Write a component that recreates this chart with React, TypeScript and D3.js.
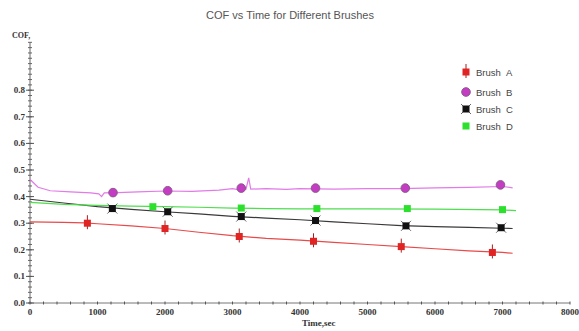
import React from "react";
import * as d3 from "d3";

const W = 579;
const H = 331;

const title = "COF vs Time for Different Brushes";
const xTicks = [0, 1000, 2000, 3000, 4000, 5000, 6000, 7000, 8000];
const yTicks = [0.0, 0.1, 0.2, 0.3, 0.4, 0.5, 0.6, 0.7, 0.8];

// Continuous curves [time, COF]
const lineA: [number, number][] = [[0, 0.305], [500, 0.303], [800, 0.301], [1000, 0.298], [1500, 0.29], [2000, 0.28], [2500, 0.266], [3000, 0.253], [3500, 0.243], [4000, 0.236], [4500, 0.228], [5000, 0.22], [5500, 0.212], [6000, 0.204], [6500, 0.196], [7000, 0.19], [7150, 0.187]];
const lineB: [number, number][] = [[0, 0.465], [40, 0.455], [120, 0.435], [300, 0.422], [600, 0.418], [900, 0.414], [1020, 0.41], [1060, 0.4], [1100, 0.414], [1300, 0.415], [1600, 0.418], [2000, 0.421], [2400, 0.42], [2800, 0.424], [3000, 0.43], [3100, 0.425], [3200, 0.428], [3240, 0.47], [3270, 0.428], [3500, 0.43], [3800, 0.427], [4000, 0.43], [4500, 0.428], [5000, 0.43], [5500, 0.43], [6000, 0.433], [6500, 0.435], [7000, 0.438], [7150, 0.433]];
const lineC: [number, number][] = [[0, 0.39], [500, 0.376], [1000, 0.362], [1500, 0.352], [2000, 0.343], [2500, 0.335], [3000, 0.326], [3500, 0.319], [4000, 0.313], [4500, 0.305], [5000, 0.298], [5500, 0.291], [6000, 0.287], [6500, 0.284], [7000, 0.281], [7150, 0.28]];
const lineD: [number, number][] = [[0, 0.378], [500, 0.371], [1000, 0.367], [1500, 0.364], [2000, 0.362], [2500, 0.36], [3000, 0.357], [3500, 0.355], [4000, 0.354], [5000, 0.354], [6000, 0.353], [7000, 0.35], [7200, 0.347]];

// Marker positions [time, COF]
const markA: [number, number][] = [[850, 0.3], [2000, 0.28], [3100, 0.25], [4200, 0.232], [5500, 0.212], [6850, 0.19]];
const markB: [number, number][] = [[1230, 0.415], [2040, 0.422], [3130, 0.432], [4230, 0.432], [5560, 0.432], [6970, 0.444]];
const markC: [number, number][] = [[1220, 0.355], [2040, 0.343], [3130, 0.325], [4230, 0.31], [5570, 0.29], [6980, 0.283]];
const markD: [number, number][] = [[1820, 0.362], [3130, 0.357], [4250, 0.355], [5590, 0.355], [7000, 0.351]];

const seriesNames = ["A", "B", "C", "D"];

const x = d3.scaleLinear().domain([0, 8000]).range([30, 570]);
const y = d3.scaleLinear().domain([0, 1]).range([303, 37]);

const line = d3.line<[number, number]>().x((d) => x(d[0])).y((d) => y(d[1]));

function MarkerA({ cx, cy }: { cx: number; cy: number }) {
  return (
    <g>
      <line x1={cx} x2={cx} y1={cy - 8} y2={cy + 6} stroke="#a02020" strokeWidth={1} />
      <rect x={cx - 3.5} y={cy - 3.5} width={7} height={7} fill="#e02424" />
    </g>
  );
}
function MarkerB({ cx, cy }: { cx: number; cy: number }) {
  return <circle cx={cx} cy={cy} r={4.3} fill="#c43cc4" stroke="#8a5a8a" strokeWidth={1} />;
}
function MarkerC({ cx, cy }: { cx: number; cy: number }) {
  return (
    <g>
      <line x1={cx - 5} y1={cy - 5} x2={cx + 5} y2={cy + 5} stroke="#666" strokeWidth={1} />
      <line x1={cx - 5} y1={cy + 5} x2={cx + 5} y2={cy - 5} stroke="#666" strokeWidth={1} />
      <rect x={cx - 3.5} y={cy - 3.5} width={7} height={7} fill="#111" />
    </g>
  );
}
function MarkerD({ cx, cy }: { cx: number; cy: number }) {
  return <rect x={cx - 3.5} y={cy - 3.5} width={7} height={7} fill="#2ee02e" />;
}

const markerComps = [MarkerA, MarkerB, MarkerC, MarkerD];
const lineColors = ["#e84a4a", "#e27ae8", "#3a3a3a", "#4ede4e"];
const lines = [lineA, lineB, lineC, lineD];
const marks = [markA, markB, markC, markD];

export default function App() {
  const minorX = d3.range(0, 8001, 200);
  const minorY = d3.range(0, 0.981, 0.02);
  const tickFont = "'Liberation Serif', 'Times New Roman', serif";
  return (
    <svg width={W} height={H} style={{ position: "absolute", left: 0, top: 0, background: "#fff" }}>
      <rect width={W} height={H} fill="#fff" />
      <text x={290} y={19} textAnchor="middle" fontFamily="'Liberation Sans', Arial, sans-serif" fontSize={11} fill="#555">
        {title}
      </text>

      {/* Y axis */}
      <line x1={x(0)} x2={x(0)} y1={y(0)} y2={y(0.98)} stroke="#666" strokeWidth={1} />
      {minorY.map((v, i) => (
        <line key={i} x1={x(0) - 2} x2={x(0) + 2} y1={y(v)} y2={y(v)} stroke="#666" strokeWidth={1} />
      ))}
      {yTicks.map((v) => (
        <g key={v}>
          <line x1={x(0) - 4} x2={x(0) + 4} y1={y(v)} y2={y(v)} stroke="#555" strokeWidth={1} />
          <text x={x(0) - 5} y={y(v) + 3} textAnchor="end" fontFamily={tickFont} fontWeight="bold" fontSize={9} fill="#333">
            {v.toFixed(1)}
          </text>
        </g>
      ))}
      <text x={12} y={38} fontFamily={tickFont} fontWeight="bold" fontSize={8} fill="#333">
        COF,
      </text>

      {/* X axis */}
      <line x1={x(0)} x2={x(8000)} y1={y(0)} y2={y(0)} stroke="#777" strokeWidth={1} />
      {minorX.map((v, i) => (
        <line key={i} x1={x(v)} x2={x(v)} y1={y(0) - 1.5} y2={y(0) + 1.5} stroke="#555" strokeWidth={1} />
      ))}
      {xTicks.map((v) => (
        <text key={v} x={x(v)} y={y(0) + 12} textAnchor="middle" fontFamily={tickFont} fontWeight="bold" fontSize={9} fill="#333">
          {v}
        </text>
      ))}
      <text x={302} y={326} fontFamily={tickFont} fontWeight="bold" fontSize={9} fill="#333">
        Time,sec
      </text>

      {/* Lines */}
      {lines.map((ln, i) => (
        <path key={i} d={line(ln) || ""} fill="none" stroke={lineColors[i]} strokeWidth={1.2} />
      ))}
      {/* Markers */}
      {marks.map((ms, i) => {
        const M = markerComps[i];
        return ms.map((p, j) => <M key={`${i}-${j}`} cx={x(p[0])} cy={y(p[1])} />);
      })}

      {/* Legend */}
      {seriesNames.map((n, i) => {
        const M = markerComps[i];
        const ly = [72, 92, 109, 126][i];
        return (
          <g key={n}>
            <M cx={466} cy={ly} />
            <text x={476} y={ly + 3.5} fontFamily="'Liberation Sans', Arial, sans-serif" fontSize={9.5} fill="#444">
              Brush
            </text>
            <text x={506} y={ly + 3.5} fontFamily="'Liberation Sans', Arial, sans-serif" fontSize={9.5} fill="#444">
              {n}
            </text>
          </g>
        );
      })}
    </svg>
  );
}
